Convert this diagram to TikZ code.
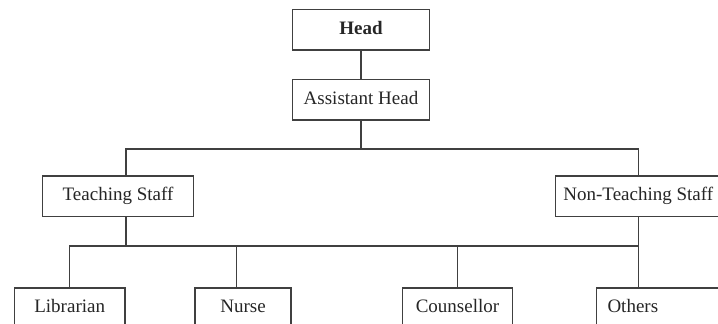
\documentclass[tikz,border=0pt]{standalone}
\usepackage{fontspec}
\setmainfont{Liberation Serif}

\tikzset{
	post/.style = {draw = black!75, line width = 1.4pt, fill = white, text = black!85,
		minimum height = 40.7pt, inner sep = 0pt, text height = 13pt, text depth = 4pt},
	link/.style = {draw = black!75, line width = 1.4pt}
}

\begin{document}
\begin{tikzpicture}[x = 1pt, y = -1pt, font = \fontsize{19}{22}\selectfont]

	% Visible window of the chart
	
	\useasboundingbox (0, 0) rectangle (718, 324);
	\clip (0, 0) rectangle (718, 324);
	
	% Top of the chart
	
	\node [post, minimum width = 137pt] (head) at (361, 29.7) {\textbf{Head}};
	\node [post, minimum width = 137pt] (asst) at (361, 99.7) {Assistant Head};
	
	% Staff groups
	
	\node [post, minimum width = 150.6pt] (teach) at (118, 196.3) {Teaching Staff};
	\node [post, minimum width = 166pt] (nonteach) at (638.3, 196.3) {Non-Teaching Staff};
	
	% Bottom row
	
	\node [post, minimum width = 110.7pt] (lib) at (69.7, 308.3) {Librarian};
	\node [post, minimum width = 95.7pt] (nurse) at (243, 308.3) {Nurse};
	\node [post, minimum width = 110pt] (couns) at (457.5, 308.3) {Counsellor};
	\node [post, text width = 105pt, inner xsep = 11pt, align = left] (others) at (660, 308.3) {Others};
	
	% Where the branches meet
	
	\coordinate (upbus) at (361, 149);
	\coordinate (lowbus) at (126, 246);
	
	% Connectors
	
	\draw [link] (head) -- (asst);
	\draw [link] (asst) -- (upbus);
	\draw [link] ([xshift = 8pt]teach.north) |- (upbus) -| (nonteach.north);
	
	\draw [link] ([xshift = 8pt]teach.south) -- (lowbus);
	\draw [link] (lib.north) |- (nonteach.south |- lowbus);
	\draw [link] (nonteach.south) -- (nonteach.south |- others.north);
	\draw [link] ([xshift = -6.7pt]nurse.north) -- ([xshift = -6.7pt]nurse.north |- lowbus);
	\draw [link] (couns.north) -- (couns.north |- lowbus);
	
\end{tikzpicture}
\end{document}
